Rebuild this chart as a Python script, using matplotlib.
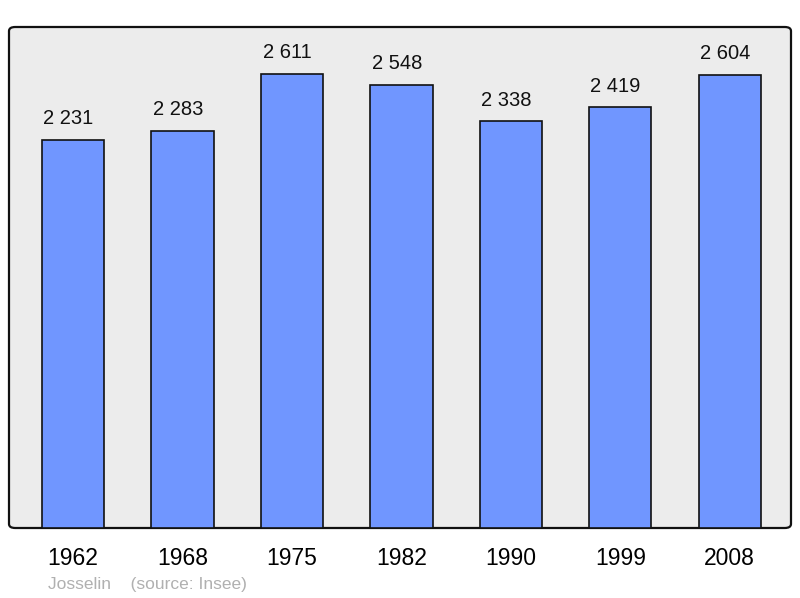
import matplotlib.pyplot as plt
from matplotlib.patches import FancyBboxPatch

years = ["1962", "1968", "1975", "1982", "1990", "1999", "2008"]
population = [2231, 2283, 2611, 2548, 2338, 2419, 2604]
value_labels = ["2 231", "2 283", "2 611", "2 548", "2 338", "2 419", "2 604"]

plt.rcParams['font.family'] = ['Liberation Sans', 'DejaVu Sans']

fig = plt.figure(figsize=(8, 5.98), dpi=100)
ax = fig.add_axes([9 / 800, 70 / 598, 782 / 800, 501 / 598])
ax.set_facecolor('none')

# rounded frame behind the bars
frame = FancyBboxPatch((0, 0), 1, 1,
                       boxstyle="round,pad=0,rounding_size=0.008",
                       transform=ax.transAxes, facecolor='#ececec',
                       edgecolor='#111111', linewidth=1.6, zorder=0,
                       clip_on=False)
ax.add_patch(frame)

x = range(len(years))
bars = ax.bar(x, population, width=0.57, color='#7096ff',
              edgecolor='#111111', linewidth=1.2, zorder=2)
for xi, v, lab in zip(x, population, value_labels):
    ax.annotate(lab, (xi, v), xytext=(-3.3, 8.5), textcoords='offset points',
                ha='center', va='bottom', fontsize=14.5, color='#111111')

ax.set_xlim(-0.585, 6.56)
ax.set_ylim(0, 2881)
ax.set_xticks(list(x))
ax.set_xticklabels(years, fontsize=16.5)
ax.tick_params(axis='x', length=0, pad=13.5)
ax.set_yticks([])
for s in ax.spines.values():
    s.set_visible(False)

fig.text(48 / 800, 1 - 584 / 598, "Josselin    (source: Insee)",
         fontsize=12.5, color='#b0b0b0', va='center', ha='left')

fig.savefig('out.png', dpi=100)
